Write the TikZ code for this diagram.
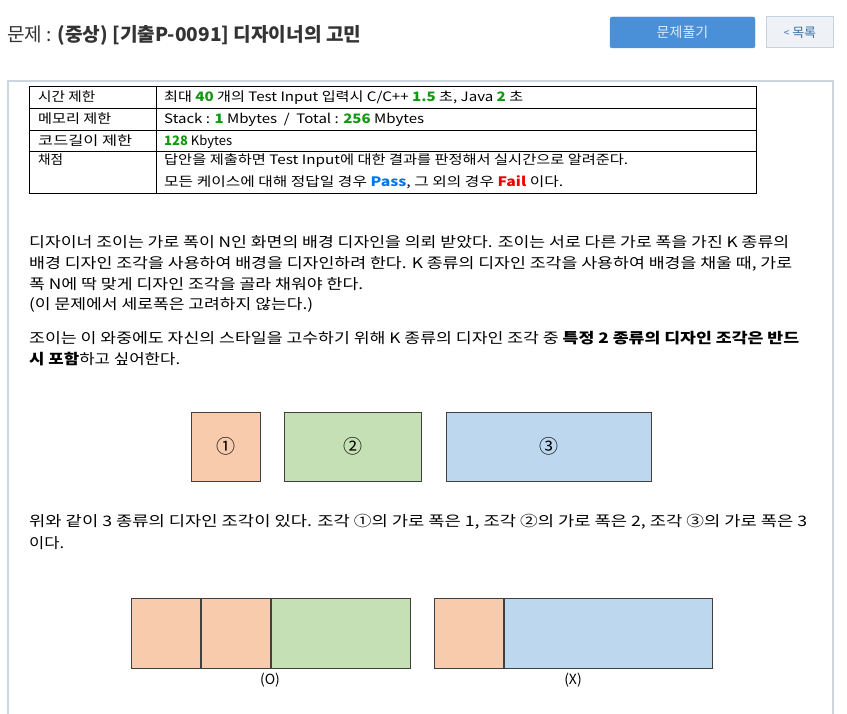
\documentclass[tikz,border=0pt]{standalone}
\usepackage{fontspec}
\setmainfont{Noto Sans CJK KR}
\usepackage{graphicx}
\definecolor{titlegray}{HTML}{333333}
\definecolor{btnblue}{HTML}{4A90D9}
\definecolor{btntext}{HTML}{DCE8F7}
\definecolor{btngray}{HTML}{EEF2F7}
\definecolor{btnborder}{HTML}{C5D1E0}
\definecolor{linkblue}{HTML}{3D6FA8}
\definecolor{boxborder}{HTML}{CCD5E0}
\definecolor{numgreen}{HTML}{119911}
\definecolor{passblue}{HTML}{0077EE}
\definecolor{failred}{HTML}{EE0000}
\definecolor{pieceor}{HTML}{F8CBAD}
\definecolor{piecegr}{HTML}{C5E0B4}
\definecolor{piecebl}{HTML}{BDD7EE}
\definecolor{pieceedge}{HTML}{404040}
\newcommand\fitw[2]{\resizebox{#1pt}{\height}{#2}}
\newcommand\gn[1]{\textbf{\textcolor{numgreen}{#1}}}
\begin{document}
\begin{tikzpicture}[x=1pt,y=-1pt,
  tbl/.style={anchor=base west, inner sep=0pt, font=\fontsize{13}{13}\selectfont},
  body/.style={anchor=base west, inner sep=0pt, font=\fontsize{14.5}{14.5}\selectfont},
  piece/.style={draw=pieceedge, line width=0.8pt, inner sep=0pt, font=\fontsize{19}{19}\selectfont},
  lbl/.style={inner sep=0pt, font=\fontsize{14}{14}\selectfont}]
\useasboundingbox (0,0) rectangle (847,714);
\fill[white] (0,0) rectangle (847,714);
% title
\node[anchor=base west, inner sep=0pt, text=titlegray, font=\fontsize{19}{19}\selectfont] (title) at (7,42)
  {\fitw{354}{문제 : \textbf{(중상) [기출P-0091] 디자이너의 고민}}};
% buttons
\node[fill=btnblue, draw=btnblue, rounded corners=2pt, minimum width=145pt, minimum height=31pt, inner sep=0pt,
  text=btntext, font=\fontsize{14}{14}\selectfont] (solve) at (682.5,32.5) {문제풀기};
\node[fill=btngray, draw=btnborder, line width=1pt, minimum width=67pt, minimum height=31pt, inner sep=0pt,
  text=linkblue, font=\fontsize{13}{13}\selectfont] (list) at (800,32.5) {\raisebox{0.5pt}{\fontsize{10}{10}\selectfont<} 목록};
% content box
\draw[boxborder, line width=2pt] (8,716) -- (8,81) -- (833,81) -- (833,716);
% table
\draw[black, line width=0.8pt] (29,86) rectangle (756,193);
\draw[black, line width=0.8pt] (29,108) -- (756,108) (29,130) -- (756,130) (29,151) -- (756,151) (156,86) -- (156,193);
\node[tbl] (t1a) at (38,102) {\fitw{57}{시간 제한}};
\node[tbl] (t2a) at (38,124) {\fitw{73}{메모리 제한}};
\node[tbl] (t3a) at (38,145.5) {\fitw{94}{코드길이 제한}};
\node[tbl] (t4a) at (38,165) {\fitw{25}{채점}};
\node[tbl] (t1b) at (164,102) {\fitw{359}{최대 \gn{40} 개의 Test Input 입력시 C/C++ \gn{1.5} 초, Java \gn{2} 초}};
\node[tbl] (t2b) at (164,124) {\fitw{260}{Stack : \gn{1} Mbytes \ / \ Total : \gn{256} Mbytes}};
\node[tbl] (t3b) at (164,145.5) {\fitw{68}{\gn{128} Kbytes}};
\node[tbl] (t4b) at (164,165) {\fitw{464}{답안을 제출하면 Test Input에 대한 결과를 판정해서 실시간으로 알려준다.}};
\node[tbl] (t4c) at (164,187) {\fitw{399}{모든 케이스에 대해 정답일 경우 \textbf{\textcolor{passblue}{Pass}}, 그 외의 경우 \textbf{\textcolor{failred}{Fail}} 이다.}};
% body text
\node[body] (p1) at (29,247.5) {\fitw{760}{디자이너 조이는 가로 폭이 N인 화면의 배경 디자인을 의뢰 받았다. 조이는 서로 다른 가로 폭을 가진 K 종류의}};
\node[body] (p2) at (29,268.5) {\fitw{763}{배경 디자인 조각을 사용하여 배경을 디자인하려 한다. K 종류의 디자인 조각을 사용하여 배경을 채울 때, 가로}};
\node[body] (p3) at (29,289.5) {\fitw{334}{폭 N에 딱 맞게 디자인 조각을 골라 채워야 한다.}};
\node[body] (p4) at (29,310) {\fitw{284}{(이 문제에서 세로폭은 고려하지 않는다.)}};
\node[body] (p5) at (29,344) {\fitw{770}{조이는 이 와중에도 자신의 스타일을 고수하기 위해 K 종류의 디자인 조각 중 \textbf{특정 2 종류의 디자인 조각은 반드}}};
\node[body] (p6) at (29,365) {\fitw{151}{\textbf{시 포함}하고 싶어한다.}};
% pieces
\node[piece, fill=pieceor, minimum width=69pt, minimum height=69pt] (c1) at (225.5,446.5) {①};
\node[piece, fill=piecegr, minimum width=137pt, minimum height=69pt] (c2) at (353,446.5) {②};
\node[piece, fill=piecebl, minimum width=205pt, minimum height=69pt] (c3) at (549,446.5) {③};
\node[body] (p7) at (29,526) {\fitw{778}{위와 같이 3 종류의 디자인 조각이 있다. 조각 ①의 가로 폭은 1, 조각 ②의 가로 폭은 2, 조각 ③의 가로 폭은 3}};
\node[body] (p8) at (29,548) {\fitw{35}{이다.}};
% examples
\node[piece, fill=pieceor, minimum width=69.5pt, minimum height=70pt] (o1) at (165.75,633) {};
\node[piece, fill=pieceor, minimum width=69.5pt, minimum height=70pt, anchor=west] (o2) at (o1.east) {};
\node[piece, fill=piecegr, minimum width=139pt, minimum height=70pt, anchor=west] (o3) at (o2.east) {};
\node[piece, fill=pieceor, minimum width=69.5pt, minimum height=70pt] (x1) at (468.75,633) {};
\node[piece, fill=piecebl, minimum width=208.5pt, minimum height=70pt, anchor=west] (x2) at (x1.east) {};
\node[lbl] (lo) at (270,680.5) {(O)};
\node[lbl] (lx) at (573,680.5) {(X)};
\end{tikzpicture}
\end{document}
